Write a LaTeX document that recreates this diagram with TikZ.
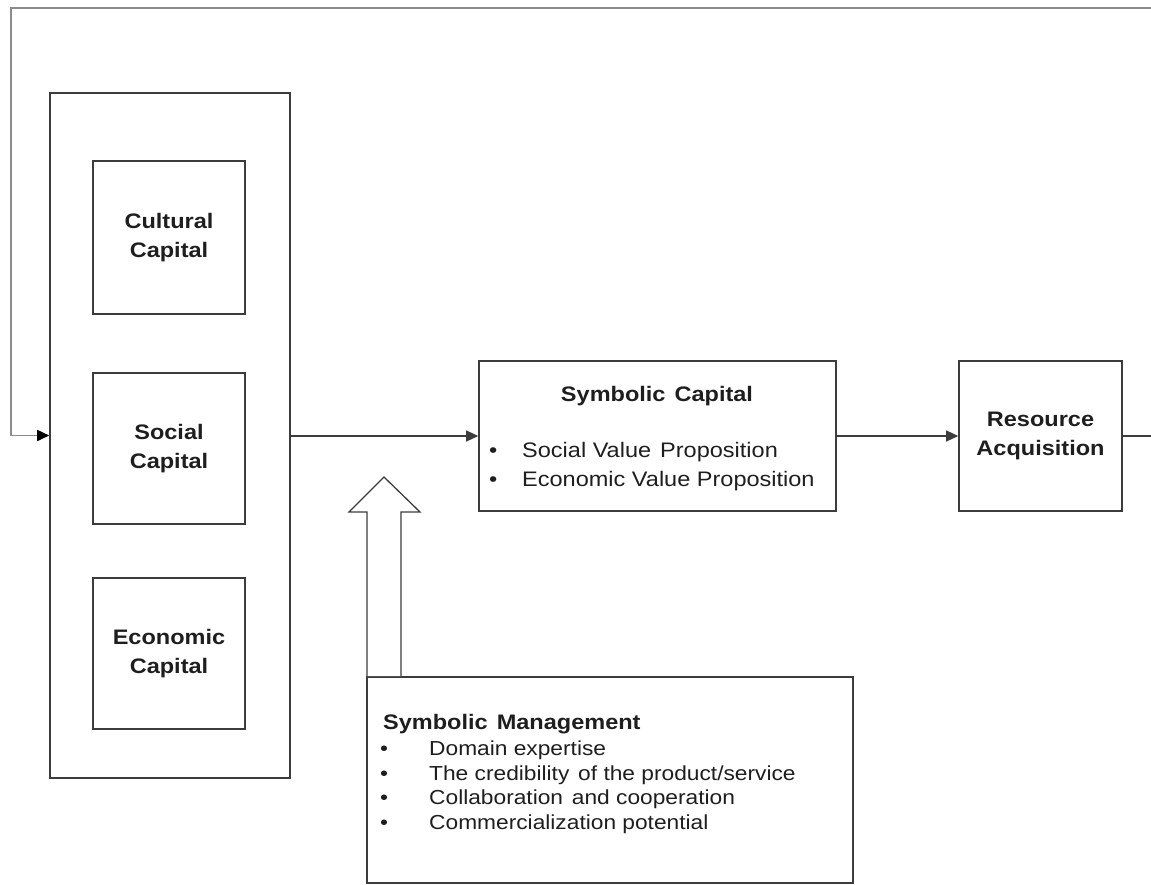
\documentclass[tikz,border=0pt]{standalone}
\usepackage{fontspec}
\setmainfont[FakeStretch=1.12]{Liberation Sans}
\usetikzlibrary{arrows.meta,calc}
\definecolor{boxgray}{HTML}{3C3C3C}
\definecolor{fbgray}{HTML}{8C8C8C}
\definecolor{txt}{HTML}{1E1E1E}
\newcommand{\wsp}{\ \hspace{2.5pt}}
\begin{document}
\begin{tikzpicture}[x=1pt,y=-1pt,
  box/.style={draw=boxgray,line width=1.6pt,rectangle,inner sep=0pt,
    font=\fontsize{21}{29}\selectfont\bfseries,align=center,text=txt},
  title/.style={font=\fontsize{21}{29}\selectfont\bfseries,text=txt,inner sep=0pt},
  item/.style={font=\fontsize{21}{24}\selectfont,text=txt,anchor=base west,inner sep=0pt},
  mitem/.style={item,font=\fontsize{20.3}{24}\selectfont},
  conn/.style={draw=boxgray,line width=1.3pt,-{Triangle[length=12pt,width=11pt]}},
  fb/.style={draw=fbgray,line width=1.7pt}]
\useasboundingbox (0,0) rectangle (1151,884);

% left column: the three forms of capital inside one frame
\node[box,minimum width=240pt,minimum height=685pt] (outer) at (170,435.5) {};
\node[box,minimum width=152pt,minimum height=153pt] (cult) at (169,237.5) {Cultural\\Capital};
\node[box,minimum width=152pt,minimum height=151pt] (soc) at (169,448.5) {Social\\Capital};
\node[box,minimum width=152pt,minimum height=151pt] (econ) at (169,653.5) {Economic\\Capital};

% symbolic capital
\node[box,minimum width=357pt,minimum height=150pt] (sc) at (657.5,436) {};
\node[title,anchor=base] (sctitle) at (657,401) {Symbolic\wsp Capital};
\node[item] (sc1) at (489,457) {\makebox[33pt][l]{•}Social Value\wsp Proposition};
\node[item] (sc2) at (489,486) {\makebox[33pt][l]{•}Economic Value Proposition};

% resource acquisition
\node[box,minimum width=163pt,minimum height=150pt] (ra) at (1040.5,436) {Resource\\Acquisition};

% symbolic management
\node[box,minimum width=486pt,minimum height=206pt] (mgmt) at (610,780) {};
\node[title,anchor=base west] (smtitle) at (383,729) {Symbolic\wsp Management};
\node[mitem] (sm1) at (380,755) {\makebox[49pt][l]{•}Domain expertise};
\node[mitem] (sm2) at (380,780) {\makebox[49pt][l]{•}The credibility\wsp of the product/service};
\node[mitem] (sm3) at (380,804) {\makebox[49pt][l]{•}Collaboration\wsp and cooperation};
\node[mitem] (sm4) at (380,829) {\makebox[49pt][l]{•}Commercialization potential};

% connectors
\draw[conn] (outer.east |- sc.west) -- (sc.west);
\draw[conn] (sc.east) -- (ra.west);

% feedback loop back to the capital frame
\coordinate (fbr) at (1162,436);
\coordinate (fbl) at (11,8);
\draw[draw=boxgray,line width=1.3pt] (ra.east) -- (fbr);
\draw[fb,-{Triangle[length=12pt,width=11pt,color=black]}] (fbr) |- (fbl) |- (outer.west);

% hollow block arrow from management up to the main flow
\coordinate (tip) at (384,477);
\draw[draw=boxgray,line width=1.3pt,fill=white]
  (mgmt.north -| 367,0) -- (367,512) -- (349,512) -- (tip) -- (420,512) -- (401,512) -- (mgmt.north -| 401,0);
\end{tikzpicture}
\end{document}
